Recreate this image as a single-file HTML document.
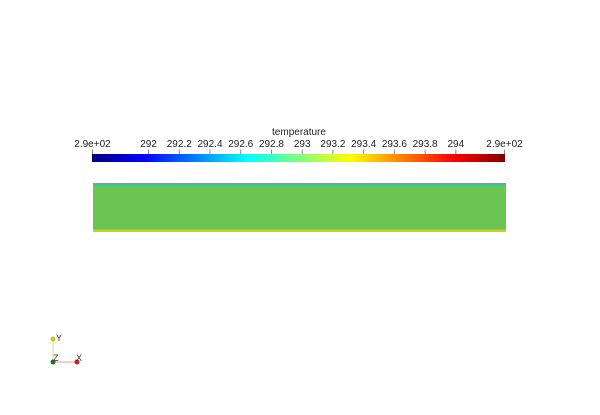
<!DOCTYPE html>
<html><head><meta charset="utf-8"><style>
html,body{margin:0;padding:0;background:#fff;}
svg{display:block;font-family:"Liberation Sans",sans-serif;}
</style></head><body>
<svg width="600" height="415">
<defs>
<linearGradient id="jet" x1="0" x2="1" y1="0" y2="0">
<stop offset="0" stop-color="#00007f"/>
<stop offset="0.125" stop-color="#0000ff"/>
<stop offset="0.375" stop-color="#00ffff"/>
<stop offset="0.5" stop-color="#7fff7f"/>
<stop offset="0.625" stop-color="#ffff00"/>
<stop offset="0.875" stop-color="#ff0000"/>
<stop offset="1" stop-color="#7f0000"/>
</linearGradient>
</defs>
<text x="299" y="135" font-size="10" text-anchor="middle" fill="#222">temperature</text>
<rect x="92" y="154" width="413" height="8" fill="url(#jet)"/>
<g id="ticks"></g>
<g>
<rect x="93" y="183" width="413" height="49" fill="#6cc452"/>
<rect x="93" y="183" width="413" height="3" fill="#2fc99a"/>
<rect x="93" y="229.5" width="413" height="2.5" fill="#c8d21a"/>
</g>
<g>
<line x1="53" y1="362" x2="53" y2="340" stroke="#e8e8b0" stroke-width="1.5"/>
<line x1="53" y1="362" x2="76" y2="362" stroke="#f0c0b0" stroke-width="1.5"/>
<circle cx="53" cy="339" r="2.5" fill="#c8c820"/>
<circle cx="77" cy="362" r="2.5" fill="#d02020"/>
<circle cx="53" cy="362" r="2.5" fill="#207020"/>
<text x="56" y="341" font-size="9" fill="#333">Y</text>
<text x="53" y="361" font-size="9" fill="#333">Z</text>
<text x="76" y="361" font-size="9" fill="#333">X</text>
</g>
</svg>
<script>
const tickValues=[292,292.2,292.4,292.6,292.8,293,293.2,293.4,293.6,293.8,294];
const tickLabels=["292","292.2","292.4","292.6","292.8","293","293.2","293.4","293.6","293.8","294"];
const endLabels=["2.9e+02","2.9e+02"];
const range=[291.632,294.32];
const x=v=>92+(v-range[0])/(range[1]-range[0])*413;
const g=document.getElementById('ticks');
const NS='http://www.w3.org/2000/svg';
function addTick(px,label,anchor){
 const l=document.createElementNS(NS,'line');
 l.setAttribute('x1',px);l.setAttribute('x2',px);l.setAttribute('y1',149.5);l.setAttribute('y2',154);
 l.setAttribute('stroke','#888');
 
 
 g.appendChild(l);
 const t=document.createElementNS(NS,'text');
 t.setAttribute('x',px);t.setAttribute('y',147);t.setAttribute('font-size','10');
 t.setAttribute('text-anchor',anchor);t.setAttribute('fill','#222');
 
 
 t.textContent=label;g.appendChild(t);
}
tickValues.forEach((v,i)=>addTick(x(v),tickLabels[i],'middle'));
addTick(92.5,endLabels[0],'middle');
addTick(504.5,endLabels[1],'middle');
</script>
</body></html>
